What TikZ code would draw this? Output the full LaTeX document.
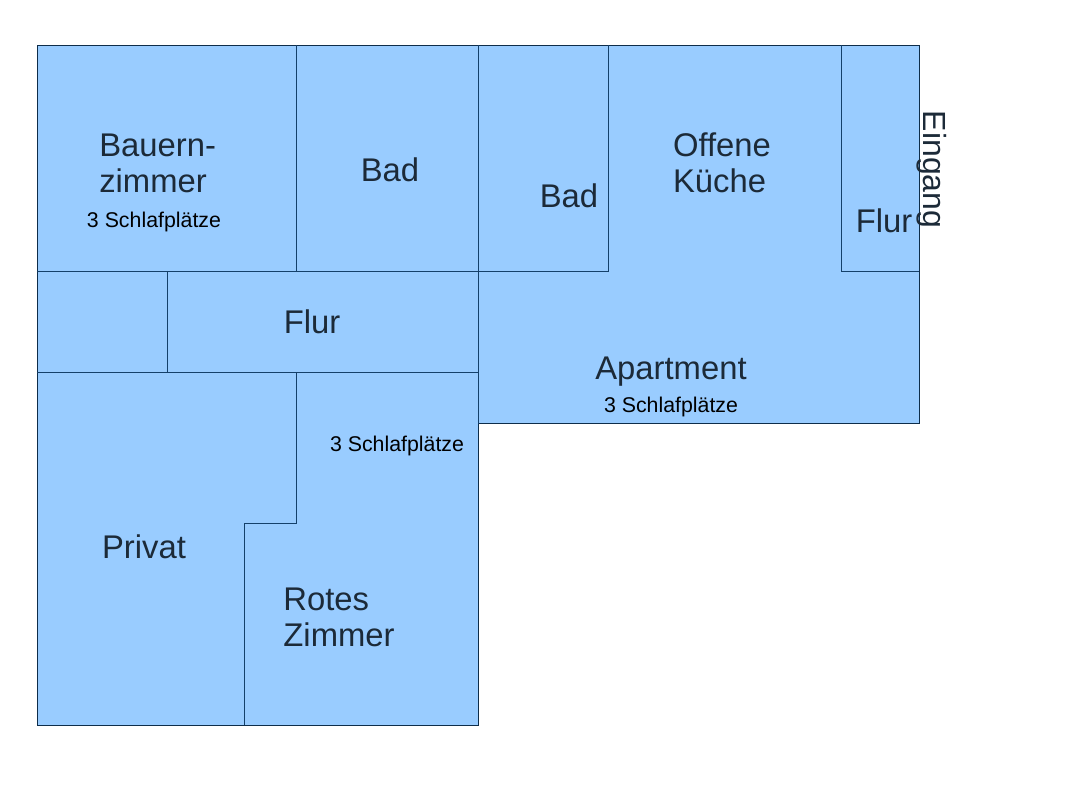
\documentclass[tikz,border=0pt]{standalone}
\usepackage{fontspec}
\setmainfont{Liberation Sans}
\definecolor{room}{HTML}{99CCFF}
\definecolor{ln}{HTML}{14406A}
\definecolor{txt}{HTML}{1C2A38}
\tikzset{x=0.75pt,y=-0.75pt,
 wall/.style={draw=ln,line width=0.75pt},
 outer/.style={draw=ln!70!black,line width=0.7pt},
 big/.style={font=\fontsize{24.6}{26}\selectfont,text=txt,inner sep=0pt,align=left},
 small/.style={font=\fontsize{16}{18}\selectfont,text=black,inner sep=0pt}}
\begin{document}
\begin{tikzpicture}
\useasboundingbox (0,0) rectangle (1066,800);
\fill[white] (0,0) rectangle (1066,800);
\filldraw[outer,fill=room] (37,45) -- (919,45) -- (919,423.5) -- (478,423.5) -- (478,725) -- (37,725) -- cycle;
\draw[wall] (296,45) -- (296,271.5);
\draw[wall] (478,45) -- (478,423.5);
\draw[wall] (608,45) -- (608,271.5);
\draw[wall] (841,45) -- (841,271.5);
\draw[wall] (37,271.5) -- (608,271.5);
\draw[wall] (841,271.5) -- (919,271.5);
\draw[wall] (167,271.5) -- (167,372);
\draw[wall] (37,372) -- (478,372);
\draw[wall] (296,372) -- (296,523.5) -- (244,523.5) -- (244,725);
\node[big,align=left,anchor=west] (t1) at (99,163) {Bauern-\\[1pt]zimmer};
\node[small] (s1) at (154,222) {3 Schlafplätze};
\node[big] (t2) at (390,170) {Bad};
\node[big] (t3) at (569,196) {Bad};
\node[big,align=left] (t4) at (722,163) {Offene\\[1pt]Küche};
\node[big] (t5) at (884,221) {Flur};
\node[big,rotate=-90,font=\fontsize{24}{26}\selectfont] (t6) at (932,169.5) {Eingang};
\node[big] (t7) at (312,322) {Flur};
\node[big] (t8) at (671,372) {Apartment};
\node[small] (s2) at (671,407) {3 Schlafplätze};
\node[small] (s3) at (397,446) {3 Schlafplätze};
\node[big] (t9) at (144,547) {Privat};
\node[big,align=left] (t10) at (339,617) {Rotes\\[1pt]Zimmer};
\end{tikzpicture}
\end{document}
